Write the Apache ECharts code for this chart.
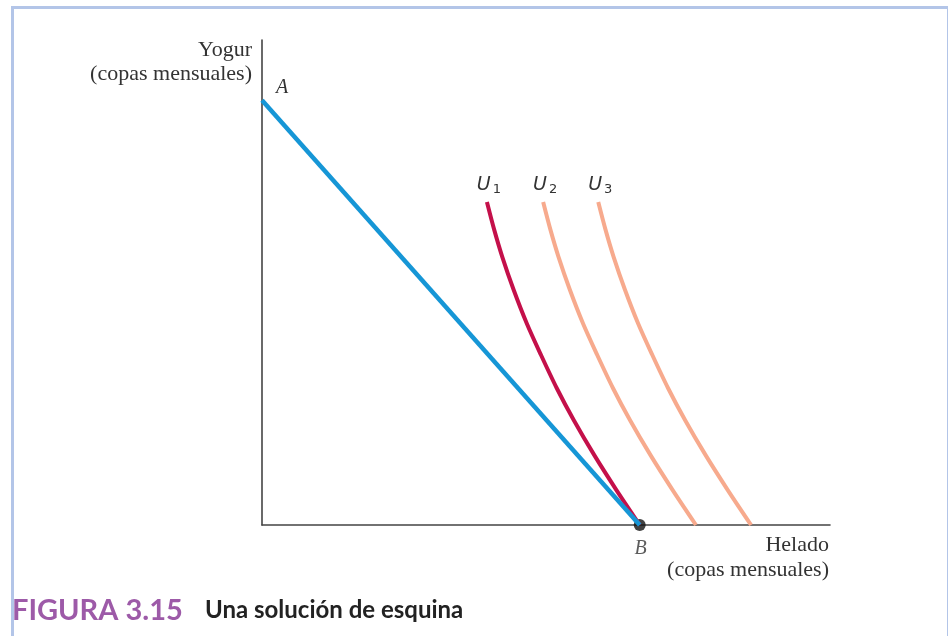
<!DOCTYPE html>
<html>
<head>
<meta charset="utf-8">
<script src="https://cdn.jsdelivr.net/npm/echarts@6/dist/echarts.min.js"></script>
<style>
html,body{margin:0;padding:0;background:#fff;}
#chart{width:948px;height:636px;}
</style>
</head>
<body>
<div id="chart"></div>
<script>
// Budget line A-B (Helado, Yogur)
const budgetX = [0, 66.5];
const budgetY = [87.6, 0];
// Indifference curves
const curveY = [66.6, 60.8, 55.3, 48.5, 41.6, 35.1, 28.2, 21.6, 14.4, 7.2, 0];
const u1X = [39.6, 40.9, 42.3, 44.3, 46.6, 49.1, 51.9, 54.9, 58.5, 62.4, 66.5];
const u2X = [49.5, 50.8, 52.2, 54.2, 56.5, 59.0, 61.8, 64.8, 68.4, 72.3, 76.4];
const u3X = [59.2, 60.5, 61.9, 63.9, 66.2, 68.7, 71.5, 74.5, 78.1, 82.0, 86.1];
const cornerPoint = [66.5, 0];
const curveNames = ['U1', 'U2', 'U3'];

const zip = (xs, ys) => xs.map((x, i) => [x, ys[i]]);
const serif = '"Liberation Serif", "DejaVu Serif", serif';

const chart = echarts.init(document.getElementById('chart'), null, {renderer: 'canvas'});

function uLabel(idx) {
  return {
    show: true,
    formatter: '{u|U}{s|' + curveNames[idx].slice(1) + '}',
    rich: {
      u: {fontFamily: '"DejaVu Sans", sans-serif', fontStyle: 'italic', fontSize: 19, color: '#333'},
      s: {fontFamily: '"DejaVu Sans", sans-serif', fontSize: 13, color: '#333', verticalAlign: 'bottom', padding: [9, 0, 0, 2]}
    },
    position: 'top',
    distance: 6,
    offset: [2, 0]
  };
}

chart.setOption({
  animation: false,
  backgroundColor: '#ffffff',
  grid: {left: 262, right: 118, top: 40, bottom: 111},
  xAxis: {
    type: 'value', min: 0, max: 100,
    axisLine: {show: true, lineStyle: {color: '#444', width: 1.6}},
    axisTick: {show: false}, axisLabel: {show: false}, splitLine: {show: false}
  },
  yAxis: {
    type: 'value', min: 0, max: 100,
    axisLine: {show: true, lineStyle: {color: '#444', width: 1.6}},
    axisTick: {show: false}, axisLabel: {show: false}, splitLine: {show: false}
  },
  series: [
    {
      type: 'line', data: zip(u3X, curveY), smooth: 0.3, symbol: 'none',
      lineStyle: {color: '#f7aa8d', width: 4},
      markPoint: {symbol: 'circle', symbolSize: 0, data: [{coord: [u3X[0], curveY[0]], label: uLabel(2)}]}
    },
    {
      type: 'line', data: zip(u2X, curveY), smooth: 0.3, symbol: 'none',
      lineStyle: {color: '#f7aa8d', width: 4},
      markPoint: {symbol: 'circle', symbolSize: 0, data: [{coord: [u2X[0], curveY[0]], label: uLabel(1)}]}
    },
    {
      type: 'line', data: zip(u1X, curveY), smooth: 0.3, symbol: 'none',
      lineStyle: {color: '#c4104a', width: 4},
      markPoint: {symbol: 'circle', symbolSize: 0, data: [{coord: [u1X[0], curveY[0]], label: uLabel(0)}]}
    },
    {
      type: 'line', data: zip(budgetX, budgetY), symbol: 'none',
      lineStyle: {color: '#1696d6', width: 4.5},
      markPoint: {symbol: 'circle', symbolSize: 0, data: [{
        coord: [budgetX[0], budgetY[0]],
        label: {show: true, formatter: 'A', position: 'top', offset: [20, 0], distance: 2,
          fontFamily: serif, fontStyle: 'italic', fontSize: 20, color: '#333'}
      }]}
    },
    {
      type: 'scatter', data: [cornerPoint], symbol: 'circle', symbolSize: 12,
      itemStyle: {color: '#111'},
      label: {show: true, formatter: 'B', position: 'bottom', distance: 8, offset: [1, 0],
        fontFamily: serif, fontStyle: 'italic', fontSize: 20, color: '#333'}
    }
  ],
  graphic: [
    {type: 'rect', left: 10, top: 5, shape: {width: 936, height: 700}, silent: true,
      style: {fill: 'none', stroke: '#b3c5e8', lineWidth: 3}},
    {type: 'text', right: 948 - 252, top: 39,
      style: {text: 'Yogur', textAlign: 'right', fontFamily: serif, fontSize: 22, fill: '#333'}},
    {type: 'text', right: 948 - 252, top: 63,
      style: {text: '(copas mensuales)', textAlign: 'right', fontFamily: serif, fontSize: 22, fill: '#333'}},
    {type: 'text', right: 948 - 829, top: 534,
      style: {text: 'Helado', textAlign: 'right', fontFamily: serif, fontSize: 22, fill: '#333'}},
    {type: 'text', right: 948 - 829, top: 559,
      style: {text: '(copas mensuales)', textAlign: 'right', fontFamily: serif, fontSize: 22, fill: '#333'}},
    {type: 'text', left: 12, top: 596,
      style: {text: 'FIGURA 3.15', fontFamily: '"Lato", sans-serif', fontWeight: 'bold', fontSize: 29, fill: '#9d5aa8'}},
    {type: 'text', left: 205, top: 598,
      style: {text: 'Una solución de esquina', fontFamily: '"Lato", "Open Sans", sans-serif', fontWeight: 'bold', fontSize: 24, fill: '#222'}}
  ]
});
</script>
</body>
</html>
